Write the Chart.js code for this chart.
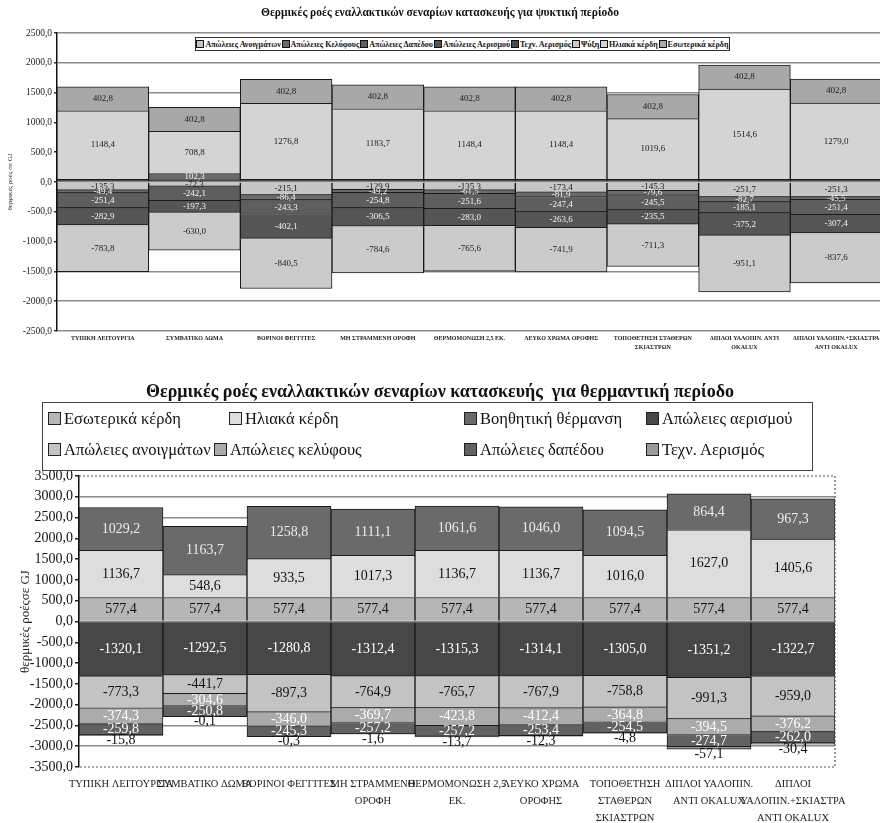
<!DOCTYPE html>
<html>
<head>
<meta charset="utf-8">
<script src="https://cdn.jsdelivr.net/npm/chart.js@4.4.1/dist/chart.umd.min.js"></script>
<style>
  html, body { margin:0; padding:0; background:#fff; }
  body { width:880px; height:823px; overflow:hidden; position:relative; font-family:"Liberation Serif","DejaVu Serif",serif; color:#111; }
  #coolWrap { position:absolute; left:0; top:0; width:900px; height:362px; }
  #heatWrap { position:absolute; left:0; top:380px; width:880px; height:443px; }
  .title { position:absolute; left:0; width:880px; text-align:center; font-weight:bold; white-space:nowrap; }
  #coolTitle { top:6px; font-size:11.5px; }
  #heatTitle { top:381px; font-size:18px; }
  #coolLegend { position:absolute; left:195px; top:37px; width:533px; height:12px; border:1px solid #333; background:#fff;
                display:flex; align-items:center; justify-content:space-around; font-size:8px; font-weight:bold; white-space:nowrap; }
  #coolLegend span.sw { display:inline-block; width:6px; height:6px; border:1px solid #111; margin-right:1px; vertical-align:-1px; }
  #heatLegend { position:absolute; left:42px; top:402px; width:769px; height:67px; border:1px solid #444; background:#fff; font-size:16.5px; }
  #heatLegend .item { position:absolute; white-space:nowrap; }
  #heatLegend span.sw { display:inline-block; width:11px; height:11px; border:1px solid #222; margin-right:3px; vertical-align:-1px; }
</style>
</head>
<body>
<div id="coolWrap"><canvas id="cool"></canvas></div>
<div id="heatWrap"><canvas id="heat"></canvas></div>
<div class="title" id="coolTitle">Θερμικές ροές εναλλακτικών σεναρίων κατασκευής για ψυκτική περίοδο</div>
<div id="coolLegend"></div>
<div class="title" id="heatTitle">Θερμικές ροές εναλλακτικών σεναρίων κατασκευής&nbsp; για θερμαντική περίοδο</div>
<div id="heatLegend"></div>
<script>
// ---------- Scenario names ----------
const coolScenarios = [
  ["ΤΥΠΙΚΗ ΛΕΙΤΟΥΡΓΙΑ"], ["ΣΥΜΒΑΤΙΚΟ ΔΩΜΑ"], ["ΒΟΡΙΝΟΙ ΦΕΓΓΙΤΕΣ"], ["ΜΗ ΣΤΡΑΜΜΕΝΗ ΟΡΟΦΗ"],
  ["ΘΕΡΜΟΜΟΝΩΣΗ 2,5 ΕΚ."], ["ΛΕΥΚΟ ΧΡΩΜΑ ΟΡΟΦΗΣ"], ["ΤΟΠΟΘΕΤΗΣΗ ΣΤΑΘΕΡΩΝ", "ΣΚΙΑΣΤΡΩΝ"],
  ["ΔΙΠΛΟΙ ΥΑΛΟΠΙΝ. ΑΝΤΙ", "OKALUX"], ["ΔΙΠΛΟΙ ΥΑΛΟΠΙΝ.+ΣΚΙΑΣΤΡΑ", "ΑΝΤΙ OKALUX"]
];
const heatScenarios = [
  "ΤΥΠΙΚΗ ΛΕΙΤΟΥΡΓΙΑ", "ΣΥΜΒΑΤΙΚΟ ΔΩΜΑ", "ΒΟΡΙΝΟΙ ΦΕΓΓΙΤΕΣ", ["ΜΗ ΣΤΡΑΜΜΕΝΗ", "ΟΡΟΦΗ"],
  ["ΘΕΡΜΟΜΟΝΩΣΗ 2,5", "ΕΚ."], ["ΛΕΥΚΟ ΧΡΩΜΑ", "ΟΡΟΦΗΣ"], ["ΤΟΠΟΘΕΤΗΣΗ", "ΣΤΑΘΕΡΩΝ", "ΣΚΙΑΣΤΡΩΝ"],
  ["ΔΙΠΛΟΙ ΥΑΛΟΠΙΝ.", "ΑΝΤΙ OKALUX"], ["ΔΙΠΛΟΙ", "ΥΑΛΟΠΙΝ.+ΣΚΙΑΣΤΡΑ", "ΑΝΤΙ OKALUX"]
];

// ---------- Cooling period (GJ) ----------
const coolOpenings    = [-135.3, -72.3, -215.1, -129.9, -135.3, -173.4, -145.3, -251.7, -251.3];
const coolEnvelope    = [-49.4, 102.3, -86.4, -49.2, -61.5, -81.9, -79.6, -82.7, -45.5];
const coolFloor       = [-251.4, -242.1, -243.3, -254.8, -251.6, -247.4, -245.5, -185.1, -251.4];
const coolVentilation = [-282.9, -197.3, -402.1, -306.5, -283.0, -263.6, -235.5, -375.2, -307.4];
const coolMechVent    = [45.0, 40.0, 45.0, 45.0, 45.0, 45.0, 45.0, 45.0, 45.0];
const coolCooling     = [-783.8, -630.0, -840.5, -784.6, -765.6, -741.9, -711.3, -951.1, -837.6];
const coolSolar       = [1148.4, 708.8, 1276.8, 1183.7, 1148.4, 1148.4, 1019.6, 1514.6, 1279.0];
const coolInternal    = [402.8, 402.8, 402.8, 402.8, 402.8, 402.8, 402.8, 402.8, 402.8];

// ---------- Heating period (GJ) ----------
const heatInternal    = [577.4, 577.4, 577.4, 577.4, 577.4, 577.4, 577.4, 577.4, 577.4];
const heatSolar       = [1136.7, 548.6, 933.5, 1017.3, 1136.7, 1136.7, 1016.0, 1627.0, 1405.6];
const heatAuxiliary   = [1029.2, 1163.7, 1258.8, 1111.1, 1061.6, 1046.0, 1094.5, 864.4, 967.3];
const heatVentilation = [-1320.1, -1292.5, -1280.8, -1312.4, -1315.3, -1314.1, -1305.0, -1351.2, -1322.7];
const heatOpenings    = [-773.3, -441.7, -897.3, -764.9, -765.7, -767.9, -758.8, -991.3, -959.0];
const heatEnvelope    = [-374.3, -304.6, -346.0, -369.7, -423.8, -412.4, -364.8, -394.5, -376.2];
const heatFloor       = [-259.8, -250.8, -245.3, -257.2, -257.2, -253.4, -254.5, -274.7, -262.0];
const heatMechVent    = [-15.8, -0.1, -0.3, -1.6, -13.7, -12.3, -4.8, -57.1, -30.4];

const fmt = v => v.toFixed(1).replace('.', ',');

// Writes each segment's value at its middle
const segmentLabels = {
  id: 'segmentLabels',
  afterDatasetsDraw(chart, args, opts) {
    const ctx = chart.ctx;
    ctx.save();
    ctx.font = opts.font;
    ctx.textAlign = 'center';
    ctx.textBaseline = 'middle';
    chart.data.datasets.forEach((ds, di) => {
      if (ds.noLabels) return;
      const meta = chart.getDatasetMeta(di);
      meta.data.forEach((bar, i) => {
        const v = ds.data[i];
        let y = (bar.y + bar.base) / 2;
        if (ds.labelBelow) y = Math.max(bar.y, bar.base) + opts.belowGap;
        ctx.fillStyle = ds.labelColor || '#111';
        ctx.fillText(fmt(v), bar.x, y);
      });
    });
    ctx.restore();
  }
};

// Dotted frame on top, right and bottom of the plot area
const plotFrame = {
  id: 'plotFrame',
  afterDraw(chart, args, opts) {
    if (!opts.show) return;
    const {ctx, chartArea: a} = chart;
    ctx.save();
    ctx.strokeStyle = '#555';
    ctx.lineWidth = 1.2;
    ctx.setLineDash([2, 2]);
    ctx.beginPath();
    ctx.moveTo(a.left, a.top); ctx.lineTo(a.right, a.top); ctx.lineTo(a.right, a.bottom); ctx.lineTo(a.left, a.bottom);
    ctx.stroke();
    ctx.restore();
  }
};

function ds(label, data, color, labelColor, extra) {
  return Object.assign({
    label, data, backgroundColor: color, borderColor: '#1a1a1a', borderWidth: 1,
    barPercentage: 1.0, categoryPercentage: 1.0, labelColor
  }, extra || {});
}

// ---------- Cooling chart ----------
const coolSets = [
  ds('Τεχν. Αερισμός', coolMechVent, '#4a4a4a', '#fff', {noLabels: true}),
  ds('Απώλειες Ανοιγμάτων', coolOpenings, '#c6c6c6', '#222'),
  ds('Απώλειες Κελύφους', coolEnvelope, '#6a6a6a', '#f4f4f4'),
  ds('Απώλειες Δαπέδου', coolFloor, '#5e5e5e', '#f4f4f4'),
  ds('Απώλειες Αερισμού', coolVentilation, '#555555', '#f4f4f4'),
  ds('Ψύξη', coolCooling, '#cbcbcb', '#222'),
  ds('Ηλιακά κέρδη', coolSolar, '#d4d4d4', '#222'),
  ds('Εσωτερικά κέρδη', coolInternal, '#a8a8a8', '#222')
];
const coolLegendOrder = ['Απώλειες Ανοιγμάτων', 'Απώλειες Κελύφους', 'Απώλειες Δαπέδου', 'Απώλειες Αερισμού',
                         'Τεχν. Αερισμός', 'Ψύξη', 'Ηλιακά κέρδη', 'Εσωτερικά κέρδη'];

new Chart(document.getElementById('cool'), {
  type: 'bar',
  data: { labels: coolScenarios, datasets: coolSets },
  plugins: [segmentLabels, plotFrame],
  options: {
    responsive: true, maintainAspectRatio: false, animation: false,
    layout: { padding: { top: 33, right: 18, left: 0, bottom: 0 } },
    plugins: {
      legend: { display: false }, tooltip: { enabled: false }, title: { display: false },
      segmentLabels: { font: "9px 'Liberation Serif'", belowGap: 5 },
      plotFrame: { show: false }
    },
    scales: {
      x: {
        stacked: true,
        grid: { display: false, drawTicks: false }, border: { display: false },
        ticks: { color: '#222', autoSkip: false, maxRotation: 0, minRotation: 0, padding: 3,
                 font: { family: 'Liberation Serif', size: 6, weight: 'bold', lineHeight: 1.45 } },
        afterFit: s => { s.height = 31; }
      },
      y: {
        stacked: true, min: -2500, max: 2500,
        grid: { color: '#8c8c8c', lineWidth: 1.5, tickLength: 3, tickColor: '#333' },
        border: { display: true, color: '#111', width: 1.5 },
        ticks: { stepSize: 500, color: '#222', padding: 2, callback: v => fmt(v),
                 font: { family: 'Liberation Serif', size: 9.5 } },
        title: { display: true, text: 'θερμικές ροές σε GJ', color: '#222', padding: { top: 6, bottom: 0 },
                 font: { family: 'Liberation Serif', size: 7 } },
        afterFit: s => { s.width = 57; }
      }
    }
  }
});

// ---------- Heating chart ----------
const heatSets = [
  ds('Εσωτερικά κέρδη', heatInternal, '#b6b6b6', '#111'),
  ds('Ηλιακά κέρδη', heatSolar, '#dddddd', '#111'),
  ds('Βοηθητική θέρμανση', heatAuxiliary, '#6a6a6a', '#ececec'),
  ds('Απώλειες αερισμού', heatVentilation, '#474747', '#ffffff'),
  ds('Απώλειες ανοιγμάτων', heatOpenings, '#c3c3c3', '#111'),
  ds('Απώλειες κελύφους', heatEnvelope, '#ababab', '#ffffff'),
  ds('Απώλειες δαπέδου', heatFloor, '#626262', '#ffffff'),
  ds('Τεχν. Αερισμός', heatMechVent, '#9a9a9a', '#111', {labelBelow: true})
];

new Chart(document.getElementById('heat'), {
  type: 'bar',
  data: { labels: heatScenarios, datasets: heatSets },
  plugins: [segmentLabels, plotFrame],
  options: {
    responsive: true, maintainAspectRatio: false, animation: false,
    layout: { padding: { top: 96, right: 45, left: 0, bottom: 0 } },
    plugins: {
      legend: { display: false }, tooltip: { enabled: false }, title: { display: false },
      segmentLabels: { font: "14px 'Liberation Serif'", belowGap: 5 },
      plotFrame: { show: true }
    },
    scales: {
      x: {
        stacked: true,
        grid: { display: false, drawTicks: false }, border: { display: false },
        ticks: { color: '#222', autoSkip: false, maxRotation: 0, minRotation: 0, padding: 9,
                 font: { family: 'Liberation Serif', size: 10.5, lineHeight: 1.62 } },
        afterFit: s => { s.height = 56; }
      },
      y: {
        stacked: true, min: -3500, max: 3500,
        grid: {
          color: ctx => (ctx.tick && (ctx.tick.value === 3500 || ctx.tick.value === -3500)) ? 'rgba(0,0,0,0)' : '#8a8a8a',
          lineWidth: 1.5, tickLength: 4, tickColor: '#222'
        },
        border: { display: true, color: '#111', width: 1.5 },
        ticks: { stepSize: 500, color: '#111', padding: 2, callback: v => fmt(v),
                 font: { family: 'Liberation Serif', size: 14 } },
        title: { display: true, text: 'θερμικές ροέςσε GJ', color: '#222', padding: { top: 18, bottom: 0 },
                 font: { family: 'Liberation Serif', size: 13 } },
        afterFit: s => { s.width = 79; }
      }
    }
  }
});

// ---------- Legends ----------
const coolLegend = document.getElementById('coolLegend');
coolLegendOrder.forEach(name => {
  const d = coolSets.find(s => s.label === name);
  const item = document.createElement('span');
  item.innerHTML = '<span class="sw" style="background:' + d.backgroundColor + '"></span>' + name;
  coolLegend.appendChild(item);
});

const heatLegendPos = {
  'Εσωτερικά κέρδη': [5, 6], 'Ηλιακά κέρδη': [186, 6], 'Βοηθητική θέρμανση': [421, 6], 'Απώλειες αερισμού': [603, 6],
  'Απώλειες ανοιγμάτων': [5, 37], 'Απώλειες κελύφους': [171, 37], 'Απώλειες δαπέδου': [421, 37], 'Τεχν. Αερισμός': [603, 37]
};
const heatLegend = document.getElementById('heatLegend');
heatSets.forEach(d => {
  const p = heatLegendPos[d.label];
  const item = document.createElement('div');
  item.className = 'item';
  item.style.left = p[0] + 'px';
  item.style.top = p[1] + 'px';
  item.innerHTML = '<span class="sw" style="background:' + d.backgroundColor + '"></span>' + d.label;
  heatLegend.appendChild(item);
});
</script>
</body>
</html>
